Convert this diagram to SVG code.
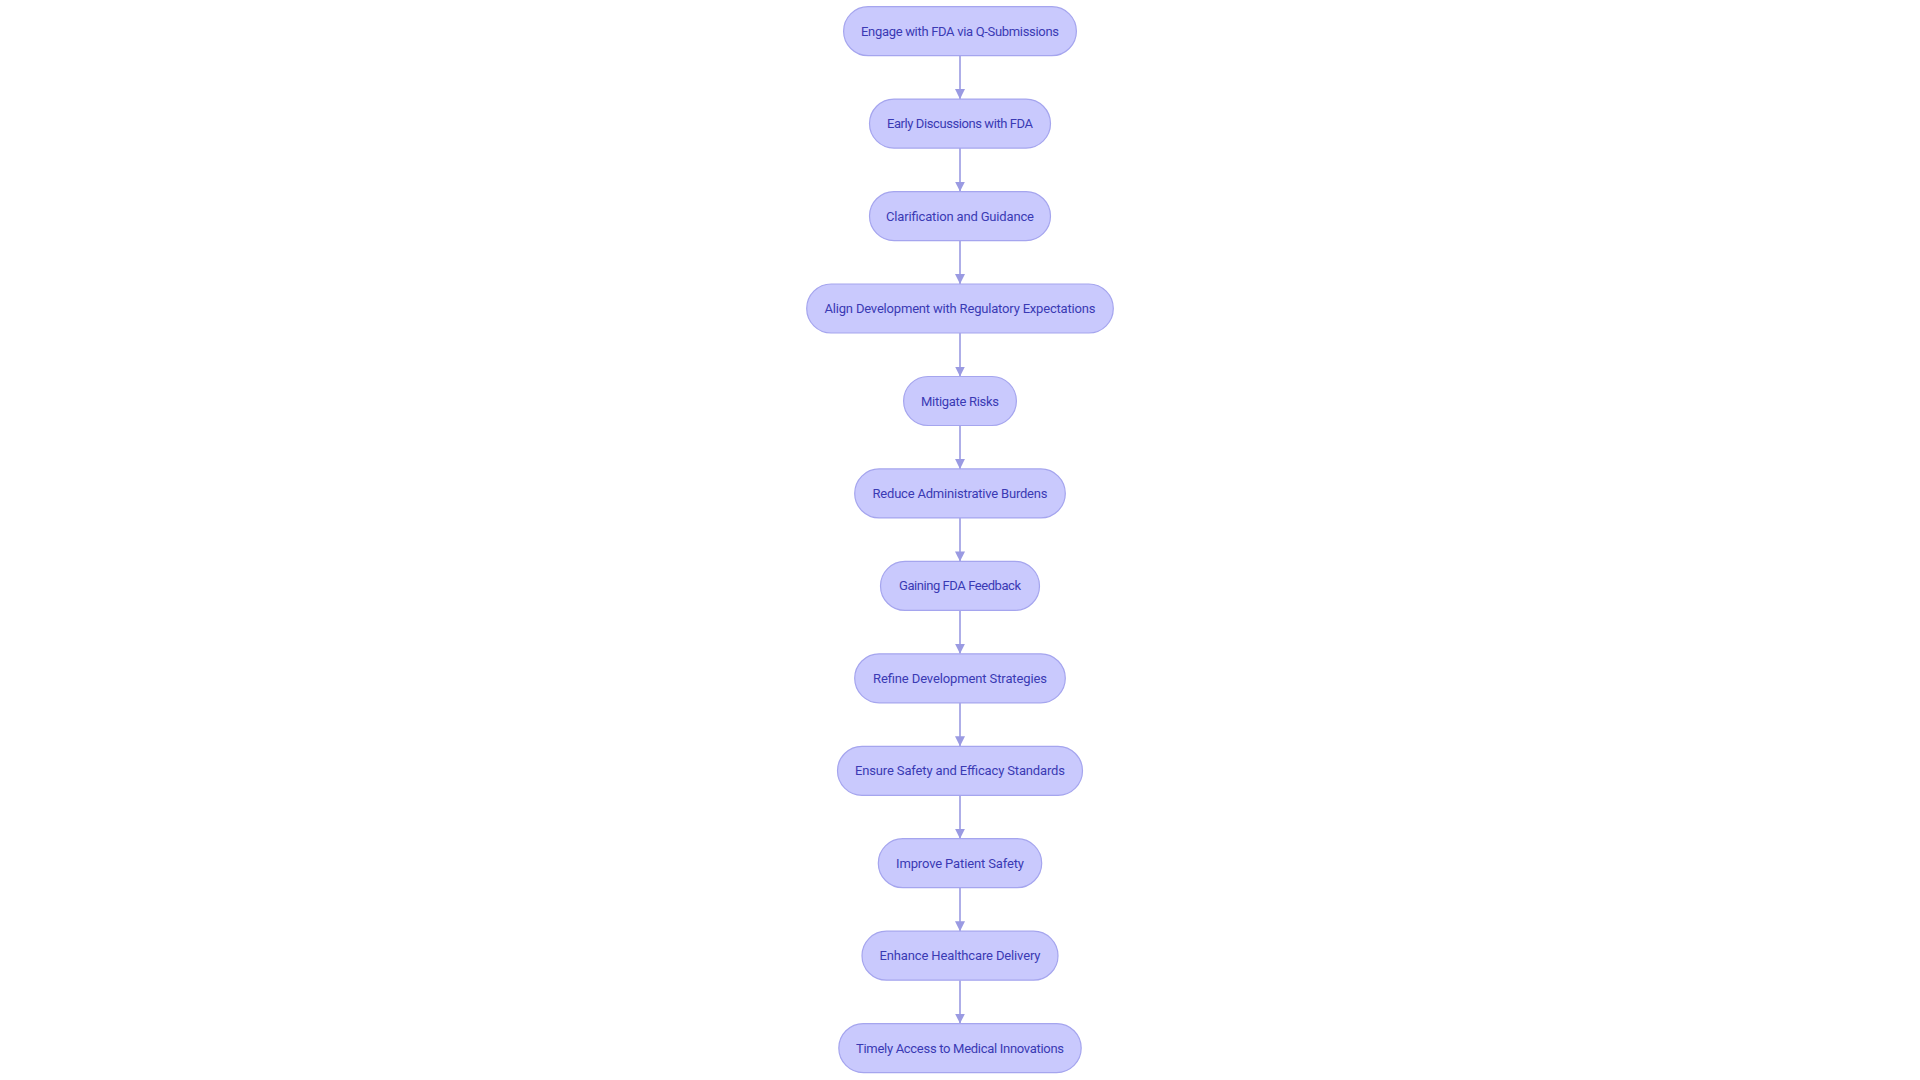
<svg xmlns="http://www.w3.org/2000/svg" width="1920" height="1080" viewBox="0 0 1920 1080">
<defs>
<marker id="arrow" viewBox="0 0 10 10" refX="10" refY="5" markerWidth="10" markerHeight="10" markerUnits="userSpaceOnUse" orient="auto">
<path d="M0,0 L10,5 L0,10 z" fill="#9a9ae2"/>
</marker>
<style>
.node rect{fill:#c9c9fd;stroke:#a5a5ee;stroke-width:1.2}
.node text{font-family:Roboto,"Liberation Sans",sans-serif;font-size:13px;fill:#3a3ab4;text-anchor:middle;dominant-baseline:central}
.edges path{stroke:#9a9ae2;stroke-width:1.6;fill:none}
</style>
</defs>
<rect width="1920" height="1080" fill="#ffffff"/>
<g class="edges">
<path d="M960,55.7 L960,99.1" marker-end="url(#arrow)"/>
<path d="M960,148.1 L960,191.6" marker-end="url(#arrow)"/>
<path d="M960,240.6 L960,284.0" marker-end="url(#arrow)"/>
<path d="M960,333.0 L960,376.5" marker-end="url(#arrow)"/>
<path d="M960,425.5 L960,468.9" marker-end="url(#arrow)"/>
<path d="M960,517.9 L960,561.4" marker-end="url(#arrow)"/>
<path d="M960,610.4 L960,653.8" marker-end="url(#arrow)"/>
<path d="M960,702.8 L960,746.3" marker-end="url(#arrow)"/>
<path d="M960,795.3 L960,838.7" marker-end="url(#arrow)"/>
<path d="M960,887.7 L960,931.2" marker-end="url(#arrow)"/>
<path d="M960,980.2 L960,1023.6" marker-end="url(#arrow)"/>
</g>
<g id="n1" class="node"><rect x="843.6" y="6.7" width="232.8" height="49" rx="24.5"/><text x="960" y="31.2" textLength="198" lengthAdjust="spacing">Engage with FDA via Q-Submissions</text></g>
<g id="n2" class="node"><rect x="869.5" y="99.1" width="181" height="49" rx="24.5"/><text x="960" y="123.6" textLength="146" lengthAdjust="spacing">Early Discussions with FDA</text></g>
<g id="n3" class="node"><rect x="869.5" y="191.6" width="181" height="49" rx="24.5"/><text x="960" y="216.1" textLength="148" lengthAdjust="spacing">Clarification and Guidance</text></g>
<g id="n4" class="node"><rect x="806.7" y="284.0" width="306.6" height="49" rx="24.5"/><text x="960" y="308.5" textLength="271" lengthAdjust="spacing">Align Development with Regulatory Expectations</text></g>
<g id="n5" class="node"><rect x="903.6" y="376.5" width="112.8" height="49" rx="24.5"/><text x="960" y="401.0" textLength="78" lengthAdjust="spacing">Mitigate Risks</text></g>
<g id="n6" class="node"><rect x="854.7" y="468.9" width="210.6" height="49" rx="24.5"/><text x="960" y="493.4" textLength="175" lengthAdjust="spacing">Reduce Administrative Burdens</text></g>
<g id="n7" class="node"><rect x="880.5" y="561.4" width="159" height="49" rx="24.5"/><text x="960" y="585.9" textLength="122" lengthAdjust="spacing">Gaining FDA Feedback</text></g>
<g id="n8" class="node"><rect x="854.7" y="653.8" width="210.6" height="49" rx="24.5"/><text x="960" y="678.3" textLength="174" lengthAdjust="spacing">Refine Development Strategies</text></g>
<g id="n9" class="node"><rect x="837.5" y="746.3" width="245" height="49" rx="24.5"/><text x="960" y="770.8" textLength="210" lengthAdjust="spacing">Ensure Safety and Efficacy Standards</text></g>
<g id="n10" class="node"><rect x="878.3" y="838.7" width="163.4" height="49" rx="24.5"/><text x="960" y="863.2" textLength="128" lengthAdjust="spacing">Improve Patient Safety</text></g>
<g id="n11" class="node"><rect x="862" y="931.2" width="196" height="49" rx="24.5"/><text x="960" y="955.7" textLength="161" lengthAdjust="spacing">Enhance Healthcare Delivery</text></g>
<g id="n12" class="node"><rect x="838.8" y="1023.6" width="242.4" height="49" rx="24.5"/><text x="960" y="1048.1" textLength="208" lengthAdjust="spacing">Timely Access to Medical Innovations</text></g>
</svg>
